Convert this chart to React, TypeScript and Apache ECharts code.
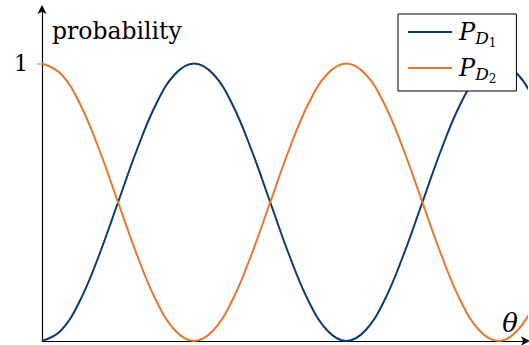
import React, { useEffect, useRef } from "react";
import * as echarts from "echarts";

// θ sampled in steps of π/16 (index k means θ = kπ/16)
const thetaSteps = [
  0, 1, 2, 3, 4, 5, 6, 7, 8, 9, 10, 11, 12, 13, 14, 15, 16, 17, 18, 19, 20, 21,
  22, 23, 24, 25, 26,
];
// P_D1 = sin²θ
const pD1 = [
  0, 0.038, 0.146, 0.309, 0.5, 0.691, 0.854, 0.962, 1, 0.962, 0.854, 0.691, 0.5,
  0.309, 0.146, 0.038, 0, 0.038, 0.146, 0.309, 0.5, 0.691, 0.854, 0.962, 1,
  0.962, 0.854,
];
// P_D2 = cos²θ
const pD2 = [
  1, 0.962, 0.854, 0.691, 0.5, 0.309, 0.146, 0.038, 0, 0.038, 0.146, 0.309, 0.5,
  0.691, 0.854, 0.962, 1, 0.962, 0.854, 0.691, 0.5, 0.309, 0.146, 0.038, 0,
  0.038, 0.146,
];
const yTickValues = [1];

const BLUE = "#0a3a6e";
const ORANGE = "#e8762d";
const SERIF = "DejaVu Serif";

export default function App() {
  const ref = useRef<HTMLDivElement>(null);

  useEffect(() => {
    if (!ref.current) return;
    const chart = echarts.init(ref.current, undefined, { renderer: "svg" });
    const rich = {
      p: { fontFamily: SERIF, fontStyle: "italic", fontSize: 24, color: "#000" },
      d: {
        fontFamily: SERIF,
        fontStyle: "italic",
        fontSize: 17,
        color: "#000",
        padding: [11, 0, 0, 0],
      },
      n: {
        fontFamily: SERIF,
        fontSize: 12,
        color: "#000",
        padding: [22, 0, 0, 0],
      },
    };
    chart.setOption({
      animation: false,
      textStyle: { fontFamily: SERIF },
      grid: { left: 42, right: 2, top: 8, bottom: 4, containLabel: false },
      legend: {
        orient: "vertical",
        left: 398,
        top: 14,
        padding: [6, 20, 6, 10],
        itemGap: 7,
        itemWidth: 44,
        itemHeight: 14,
        borderColor: "#000",
        borderWidth: 1,
        backgroundColor: "#fff",
        icon: "path://M0,6 L44,6 L44,8 L0,8 Z",
        data: ["D1", "D2"],
        formatter: (name: string) =>
          name === "D1" ? "{p|P}{d|D}{n|1}" : "{p|P}{d|D}{n|2}",
        textStyle: { fontFamily: SERIF, rich, padding: [0, 0, 0, 2] },
      },
      xAxis: {
        type: "value",
        min: 0,
        max: 25.5,
        name: "θ",
        nameLocation: "end",
        nameGap: -9,
        nameTextStyle: {
          fontFamily: SERIF,
          fontStyle: "italic",
          fontSize: 26,
          color: "#000",
          align: "right",
          verticalAlign: "bottom",
          padding: [0, 0, 5, 0],
        },
        axisLine: {
          onZero: false,
          symbol: ["none", "arrow"],
          symbolSize: [7, 9],
          symbolOffset: [0, 3],
          lineStyle: { color: "#000", width: 1.2 },
        },
        axisTick: { show: false },
        axisLabel: { show: false },
        splitLine: { show: false },
      },
      yAxis: {
        type: "value",
        min: 0,
        max: 1.2,
        name: "probability",
        nameLocation: "end",
        nameGap: -11,
        nameTextStyle: {
          fontFamily: SERIF,
          fontSize: 23.5,
          color: "#000",
          align: "left",
          verticalAlign: "top",
          padding: [0, 0, 0, 10],
        },
        axisLine: {
          show: true,
          symbol: ["none", "arrow"],
          symbolSize: [7, 9],
          symbolOffset: [0, 3],
          lineStyle: { color: "#000", width: 1.2 },
        },
        axisTick: {
          show: true,
          length: 5,
          customValues: yTickValues,
          lineStyle: { color: "#b0b0b0", width: 1.5 },
        },
        axisLabel: {
          customValues: yTickValues,
          fontFamily: SERIF,
          fontSize: 22,
          color: "#000",
          margin: 14,
        },
        splitLine: { show: false },
      },
      series: [
        {
          name: "D1",
          type: "line",
          data: thetaSteps.map((k, i) => [k, pD1[i]]),
          smooth: 0.4,
          showSymbol: false,
          clip: false,
          lineStyle: { color: BLUE, width: 2 },
          itemStyle: { color: BLUE },
        },
        {
          name: "D2",
          type: "line",
          data: thetaSteps.map((k, i) => [k, pD2[i]]),
          smooth: 0.4,
          showSymbol: false,
          clip: false,
          lineStyle: { color: ORANGE, width: 2 },
          itemStyle: { color: ORANGE },
        },
      ],
    });
    return () => chart.dispose();
  }, []);

  return (
    <div
      ref={ref}
      style={{ position: "fixed", left: 0, top: 0, width: 529, height: 345, background: "#fff" }}
    />
  );
}
